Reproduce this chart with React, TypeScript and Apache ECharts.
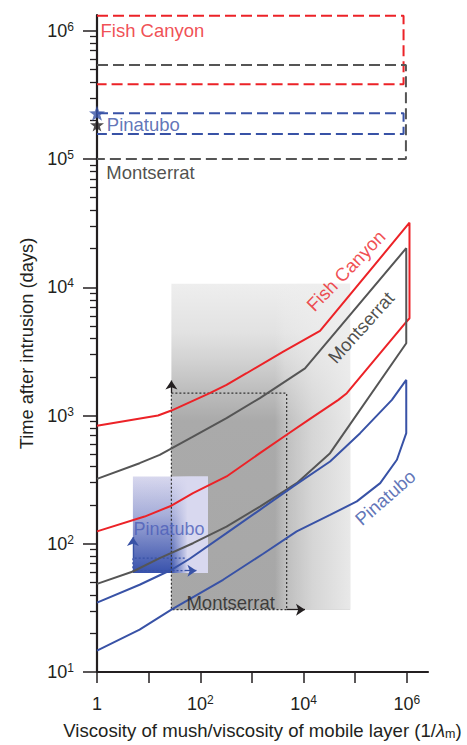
import React, { useEffect, useRef } from 'react';
import * as echarts from 'echarts';

const FONT = '"Liberation Sans", Arial, Helvetica, sans-serif';
const INK = '#231f20';
const RED = '#ec2227';
const GRAY = '#555555';
const BLUE = '#3852a6';

// axis extents and ticks
const xExtent = [1, 2.58e6];
const yExtent = [10, 1.33e6];
const xTickValues = [1, 10, 100, 1000, 10000, 100000, 1000000];
const xLabelValues = [1, 100, 10000, 1000000];
const yMajorValues = [10, 100, 1000, 10000, 100000, 1000000];
const yMinorValues = [
  20, 30, 40, 50, 60, 70, 80, 90,
  200, 300, 400, 500, 600, 700, 800, 900,
  2000, 3000, 4000, 5000, 6000, 7000, 8000, 9000,
  20000, 30000, 40000, 50000, 60000, 70000, 80000, 90000,
  200000, 300000, 400000, 500000, 600000, 700000, 800000, 900000,
];

// model envelopes: upper branch (left -> right), lower branch (right -> left)
const fishCanyonUpper = [[1, 832], [15.2, 1000], [27.6, 1094], [153, 1495], [323, 1734], [789, 2138], [4055, 3155], [20900, 4570], [1130000, 31900]];
const fishCanyonLower = [[1130000, 5740], [935000, 5250], [69000, 1495], [47400, 1325], [13370, 942], [4720, 708], [1430, 509], [323, 335], [72.4, 248], [27.6, 198], [8.36, 163], [1, 125]];
const montserratUpper = [[1, 321], [6.69, 425], [16.4, 494], [72.4, 686], [323, 955], [1430, 1368], [10700, 2333], [978000, 20200]];
const montserratLower = [[978000, 3660], [32700, 509], [7380, 297], [1430, 195], [323, 136], [72.4, 101], [16.4, 77.4], [4.96, 60.8], [1, 48.7]];
const pinatuboUpper = [[1, 34.8], [6.69, 47.9], [27.6, 62.7], [62.5, 76.4], [323, 121], [1430, 184], [6340, 280], [32700, 438], [125000, 729], [516000, 1325], [978000, 1897]];
const pinatuboLower = [[978000, 729], [645000, 452], [306000, 297], [108000, 214], [32700, 168], [7380, 125], [1657, 83.6], [277, 52.4], [27.6, 30.6], [6.69, 21.4], [1, 14.7]];

// observed ranges (dashed boxes, top)
const fishCanyonBox = [[1, 1.31e6], [867000, 1.31e6], [867000, 383000], [1, 383000]];
const montserratBox = [[1, 541000], [964000, 541000], [964000, 100000], [1, 100000]];
const pinatuboBox = [[1, 228000], [867000, 228000], [867000, 157000], [1, 157000]];
const pinatuboStar = [1, 228000];
const montserratStar = [1, 185000];

// shaded fields and dotted ranges
const montserratField = [[27.6, 30.6], [80000, 10640]];
const montserratFieldFade = [[2800, 30.6], [80000, 10640]];
const montserratRange = [[27.6, 1495], [4720, 1495], [4720, 30.6], [27.6, 30.6], [27.6, 1495]];
const montserratArrows = [[[27.6, 1495], [27.6, 1875]], [[4720, 30.6], [10700, 30.6]]];
const pinatuboField = [[4.96, 59.2], [141, 335]];
const pinatuboFieldCore = [[4.96, 59.2], [55, 335]];
const pinatuboFieldFade = [[27.6, 59.2], [141, 335]];
const pinatuboRange = [[50, 77.4], [4.96, 77.4], [4.96, 61.7], [50, 61.7]];
const pinatuboArrows = [[[4.96, 77.4], [4.96, 113]], [[50, 61.7], [84.4, 61.7]]];

// annotation anchors (data coordinates)
const fishCanyonLabelAt = [[1.17, 1.01e6], [66300, 13500]];
const montserratLabelAt = [[1.51, 79000], [129600, 4860], [54, 35]];
const pinatuboLabelAt = [[1.55, 186000], [382700, 229], [5.1, 131]];

const STAR = 'path://M12,0 L14.9,8.2 L23.4,8.3 L16.6,13.4 L19.1,21.7 L12,16.8 L4.9,21.7 L7.4,13.4 L0.6,8.3 L9.1,8.2 Z';

function lin(x2: number, y2: number, stops: [number, string][]) {
  return { type: 'linear', x: 0, y: 0, x2, y2, colorStops: stops.map(([offset, color]) => ({ offset, color })) };
}

function area(c: number[][], color: any) {
  return [{ coord: c[0], itemStyle: { color, opacity: 1, borderWidth: 0 } }, { coord: c[1] }];
}

function buildOption(): any {
  const rich = {
    b: { fontSize: 18, fontFamily: FONT, color: INK, lineHeight: 20 },
    sup: { fontSize: 12, fontFamily: FONT, color: INK, lineHeight: 16, verticalAlign: 'top' },
  };
  const powLabel = (v: number) => (v === 1 ? '{b|1}' : `{b|10}{sup|${Math.round(Math.log10(v))}}`);

  const curve = (name: string, data: number[][], color: string) => ({
    name, type: 'line', data, symbol: 'none', silent: true, z: 3, clip: false,
    lineStyle: { color, width: 2 },
  });
  const dashed = (name: string, data: number[][], color: string) => ({
    name, type: 'line', data, symbol: 'none', silent: true, z: 3, clip: false,
    lineStyle: { color, width: 2, type: [11, 5] },
  });
  const text = (at: number[], t: string, color: string, rotate = 0, size = 18.5) => ({
    value: at,
    label: {
      show: true, formatter: t, color, fontSize: size, fontFamily: FONT,
      position: rotate ? 'inside' : 'right', distance: 0, rotate,
    },
  });

  return {
    animation: false,
    backgroundColor: '#ffffff',
    grid: { left: 97, right: 39, top: 15, bottom: 73, outerBoundsMode: 'none', containLabel: false },
    xAxis: [{
      type: 'log', logBase: 10, min: xExtent[0], max: xExtent[1],
      axisLine: { show: true, onZero: false, lineStyle: { color: INK, width: 2.2 } },
      axisTick: { show: true, length: 11, customValues: xTickValues, lineStyle: { color: INK, width: 1.5 } },
      axisLabel: { show: true, customValues: xLabelValues, formatter: powLabel, margin: 22, rich, color: INK },
      splitLine: { show: false }, minorTick: { show: false }, minorSplitLine: { show: false },
      name: 'Viscosity of mush/viscosity of mobile layer (1/{i|λ}{sub|m})',
      nameLocation: 'middle', nameGap: 48,
      nameTextStyle: {
        fontSize: 18.6, fontFamily: FONT, color: INK, lineHeight: 20,
        rich: {
          i: { fontSize: 18.6, fontFamily: FONT, color: INK, fontStyle: 'italic', lineHeight: 20 },
          sub: { fontSize: 12.5, fontFamily: FONT, color: INK, lineHeight: 10, verticalAlign: 'bottom' },
        },
      },
    }],
    yAxis: [{
      type: 'log', logBase: 10, min: yExtent[0], max: yExtent[1], position: 'left',
      axisLine: { show: true, onZero: false, lineStyle: { color: INK, width: 2.2 } },
      axisTick: { show: true, length: 14, customValues: yMajorValues, lineStyle: { color: INK, width: 1.5 } },
      axisLabel: { show: true, customValues: yMajorValues, formatter: powLabel, margin: 23, rich, color: INK },
      splitLine: { show: false }, minorTick: { show: false },
      name: 'Time after intrusion (days)', nameLocation: 'middle', nameGap: 62,
      nameTextStyle: { fontSize: 18.3, fontFamily: FONT, color: INK },
    }, {
      type: 'log', logBase: 10, min: yExtent[0], max: yExtent[1], position: 'left',
      axisLine: { show: false },
      axisTick: { show: true, length: 7, customValues: yMinorValues, lineStyle: { color: INK, width: 1.3 } },
      axisLabel: { show: false }, splitLine: { show: false },
    }],
    series: [
      {
        name: 'Montserrat range', type: 'line', data: montserratRange, symbol: 'none', silent: true, z: 2,
        lineStyle: { color: '#333333', width: 1.2, type: [2, 2] },
        markArea: {
          silent: true, z: 1, label: { show: false },
          data: [
            area(montserratField, lin(0, 1, [[0, '#eeeeee'], [0.15, '#e2e2e2'], [0.235, '#d2d2d2'], [0.33, '#bdbdbd'], [0.42, '#aaaaaa'], [1, '#a7a7a7']])),
            area(montserratFieldFade, lin(1, 0, [[0, 'rgba(238,238,238,0)'], [0.13, 'rgba(238,238,238,0.3)'], [0.5, 'rgba(238,238,238,0.65)'], [1, 'rgba(238,238,238,0.92)']])),
            area(pinatuboField, lin(0, 1, [[0, '#d8d8ee'], [1, '#c8c8e6']])),
            area(pinatuboFieldCore, lin(0, 1, [[0, 'rgba(56,82,172,0)'], [0.4, 'rgba(56,82,172,0.28)'], [0.68, 'rgba(56,82,172,0.62)'], [1, 'rgba(56,82,172,1)']])),
            area(pinatuboFieldFade, lin(1, 0, [[0, 'rgba(216,216,239,0)'], [0.45, 'rgba(216,216,239,1)'], [1, 'rgba(216,216,239,1)']])),
          ],
        },
        markLine: {
          silent: true, symbol: ['none', 'arrow'], symbolSize: 9, label: { show: false },
          lineStyle: { type: 'solid', color: INK, width: 1.3 },
          data: montserratArrows.map(([a, b]) => [{ coord: a }, { coord: b }]),
        },
      },
      {
        name: 'Pinatubo range', type: 'line', data: pinatuboRange, symbol: 'none', silent: true, z: 2,
        lineStyle: { color: BLUE, width: 1.2, type: [2, 2] },
        markLine: {
          silent: true, symbol: ['none', 'arrow'], symbolSize: 9, label: { show: false },
          lineStyle: { type: 'solid', color: BLUE, width: 1.3 },
          itemStyle: { color: BLUE },
          data: pinatuboArrows.map(([a, b]) => [{ coord: a }, { coord: b }]),
        },
      },
      curve('Fish Canyon', [...fishCanyonUpper, ...fishCanyonLower], RED),
      curve('Montserrat', [...montserratUpper, ...montserratLower], GRAY),
      curve('Pinatubo', [...pinatuboUpper, ...pinatuboLower], BLUE),
      dashed('Fish Canyon box', fishCanyonBox, RED),
      dashed('Montserrat box', montserratBox, GRAY),
      dashed('Pinatubo box', pinatuboBox, BLUE),
      {
        name: 'labels', type: 'scatter', symbolSize: 0, silent: true, z: 4,
        itemStyle: { color: 'transparent' },
        data: [
          text(fishCanyonLabelAt[0], 'Fish Canyon', RED),
          text(fishCanyonLabelAt[1], 'Fish Canyon', RED, 46),
          text(montserratLabelAt[0], 'Montserrat', INK),
          text(montserratLabelAt[1], 'Montserrat', INK, 48),
          text(montserratLabelAt[2], 'Montserrat', INK),
          text(pinatuboLabelAt[0], 'Pinatubo', BLUE),
          text(pinatuboLabelAt[1], 'Pinatubo', BLUE, 41),
          text(pinatuboLabelAt[2], 'Pinatubo', '#4b5db8', 0, 18),
        ],
      },
      {
        name: 'stars', type: 'scatter', symbol: STAR, silent: true, z: 6, clip: false,
        symbolKeepAspect: true,
        data: [
          { value: montserratStar, symbolSize: 14, itemStyle: { color: INK } },
          { value: pinatuboStar, symbolSize: 16, itemStyle: { color: BLUE } },
        ],
      },
    ],
  };
}

export default function App() {
  const ref = useRef<HTMLDivElement>(null);
  useEffect(() => {
    if (!ref.current) return;
    const chart = echarts.init(ref.current, null, { renderer: 'svg' });
    chart.setOption(buildOption());
    return () => chart.dispose();
  }, []);
  return <div ref={ref} style={{ position: 'absolute', left: 0, top: 0, width: 467, height: 745 }} />;
}
